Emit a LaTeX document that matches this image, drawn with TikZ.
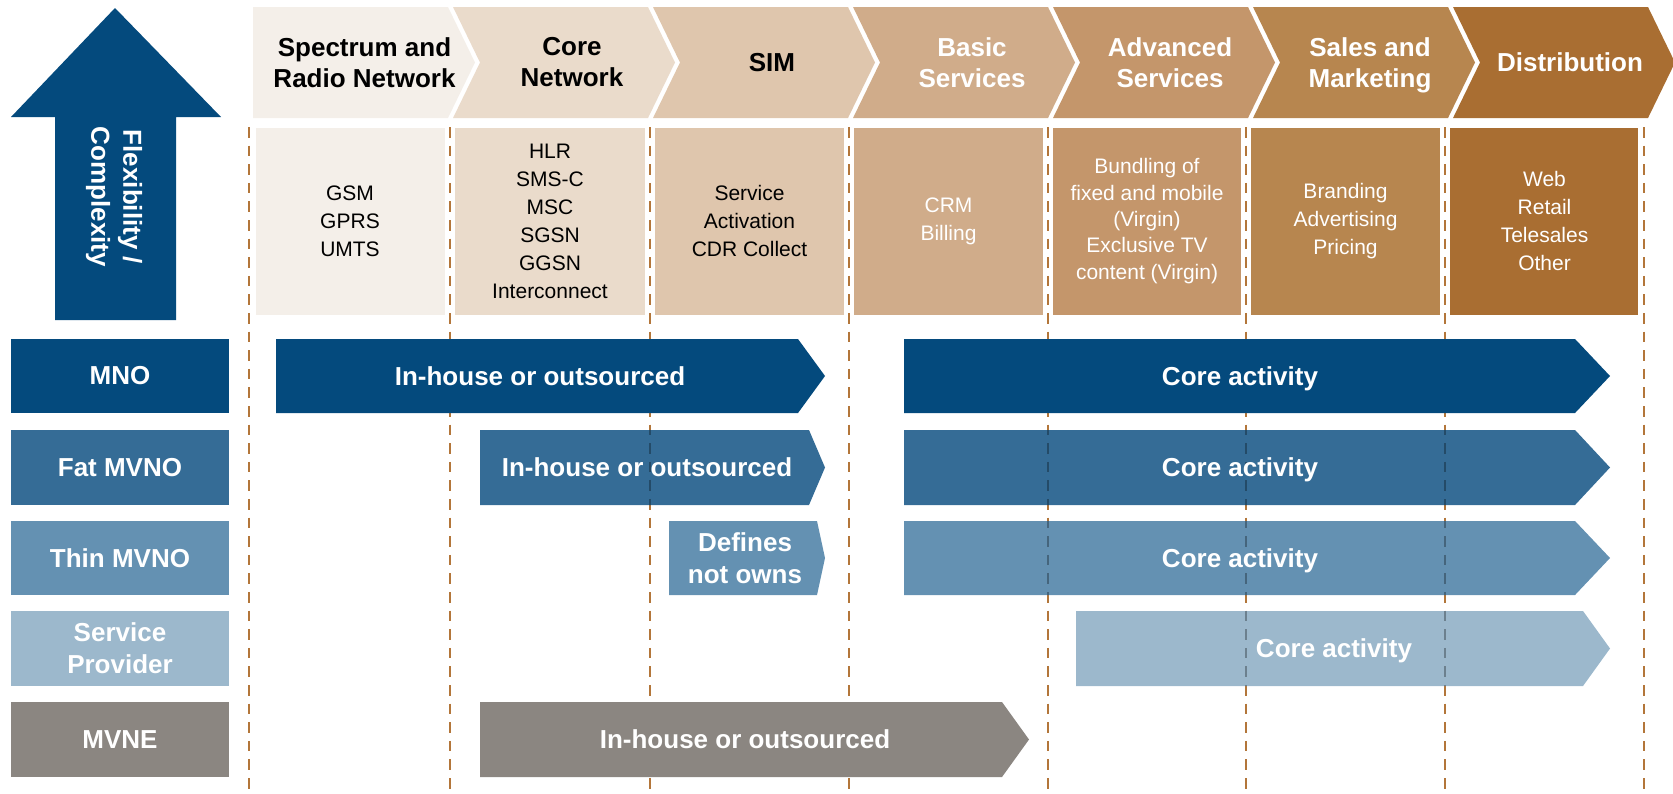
\documentclass[tikz,border=0pt]{standalone}
\usepackage{fontspec}
\setmainfont{Liberation Sans}
\usepackage{tikz}

\definecolor{hdA}{HTML}{F4EFE9}
\definecolor{hdB}{HTML}{EADBCB}
\definecolor{hdC}{HTML}{DFC6AD}
\definecolor{hdD}{HTML}{D0AC8A}
\definecolor{hdE}{HTML}{C4966B}
\definecolor{hdF}{HTML}{B7864F}
\definecolor{hdG}{HTML}{A96E32}
\definecolor{mnoblue}{HTML}{044A7D}
\definecolor{fatblue}{HTML}{356C96}
\definecolor{thinblue}{HTML}{6491B2}
\definecolor{spblue}{HTML}{9CB8CC}
\definecolor{mvnegray}{HTML}{8B8681}
\definecolor{dashbrown}{HTML}{B3763A}

\begin{document}
\begin{tikzpicture}[x=0.5pt, y=-0.5pt,
    hdtext/.style={align=center, font=\bfseries\fontsize{13}{15.5}\selectfont},
    cell/.style={align=center, font=\fontsize{10.5}{14}\selectfont},
    rowtext/.style={align=center, text=white, font=\bfseries\fontsize{13}{16}\selectfont},
    vline/.style={draw=dashbrown, line width=1.4pt, dash pattern=on 5.3pt off 4pt}]
            \useasboundingbox (0,0) rectangle (1673,793);

            % Header chevrons
            \fill[hdA] (253,7) -- (448,7) -- (475,62.5) -- (448,118) -- (253,118) -- cycle;
            \fill[hdB] (453,7) -- (648,7) -- (675,62.5) -- (648,118) -- (453,118) -- (480,62.5) -- cycle;
            \fill[hdC] (653,7) -- (848,7) -- (875,62.5) -- (848,118) -- (653,118) -- (680,62.5) -- cycle;
            \fill[hdD] (853,7) -- (1048,7) -- (1075,62.5) -- (1048,118) -- (853,118) -- (880,62.5) -- cycle;
            \fill[hdE] (1053,7) -- (1248,7) -- (1275,62.5) -- (1248,118) -- (1053,118) -- (1080,62.5) -- cycle;
            \fill[hdF] (1253,7) -- (1448,7) -- (1475,62.5) -- (1448,118) -- (1253,118) -- (1280,62.5) -- cycle;
            \fill[hdG] (1453,7) -- (1648,7) -- (1675,62.5) -- (1648,118) -- (1453,118) -- (1480,62.5) -- cycle;

            \node[hdtext] (h1) at (364.5,62.5) {Spectrum and\\Radio Network};
            \node[hdtext] (h2) at (572,62.5) {Core\\Network};
            \node[hdtext] (h3) at (772,62.5) {SIM};
            \node[hdtext, text=white] (h4) at (972,62.5) {Basic\\Services};
            \node[hdtext, text=white] (h5) at (1170,62.5) {Advanced\\Services};
            \node[hdtext, text=white] (h6) at (1370,65.5) {Sales and\\Marketing};
            \node[hdtext, text=white] (h7) at (1570,62.5) {Distribution};

            % Content boxes
            \fill[hdA] (256,128) rectangle (445,315);
            \fill[hdB] (455,128) rectangle (645,315);
            \fill[hdC] (655,128) rectangle (844,315);
            \fill[hdD] (854,128) rectangle (1043,315);
            \fill[hdE] (1053,128) rectangle (1241,315);
            \fill[hdF] (1251,128) rectangle (1440,315);
            \fill[hdG] (1450,128) rectangle (1638,315);

            \node[cell] (c1) at (350,221) {GSM\\GPRS\\UMTS};
            \node[cell] (c2) at (550,221) {HLR\\SMS-C\\MSC\\SGSN\\GGSN\\Interconnect};
            \node[cell] (c3) at (749.5,221) {Service\\Activation\\CDR Collect};
            \node[cell, text=white] (c4) at (948.5,221) {CRM\\Billing};
            \node[cell, text=white, font=\fontsize{10.5}{13.2}\selectfont] (c5) at (1147,221) {Bundling of\\fixed and mobile\\(Virgin)\\Exclusive TV\\content (Virgin)};
            \node[cell, text=white] (c6) at (1345.5,221) {Branding\\Advertising\\Pricing};
            \node[cell, text=white] (c7) at (1544.5,221) {Web\\Retail\\Telesales\\Other};

            % Dashed column lines
            \draw[vline] (249,127) -- (249,793);
            \draw[vline] (450,127) -- (450,793);
            \draw[vline] (650,127) -- (650,793);
            \draw[vline] (849,127) -- (849,793);
            \draw[vline] (1048,127) -- (1048,793);
            \draw[vline] (1246,127) -- (1246,793);
            \draw[vline] (1445,127) -- (1445,793);
            \draw[vline] (1644,127) -- (1644,793);

            % Big arrow on the left
            \fill[mnoblue] (115,8) -- (221,117) -- (176,117) -- (176,320) -- (55,320) -- (55,117) -- (11,117) -- cycle;
            \node[rowtext, rotate=-90] (flex) at (114,197) {Flexibility /\\Complexity};

            % Row labels
            \fill[mnoblue] (11,339) rectangle (229,413);
            \fill[fatblue] (11,430) rectangle (229,505);
            \fill[thinblue] (11,521) rectangle (229,595);
            \fill[spblue] (11,611) rectangle (229,686);
            \fill[mvnegray] (11,702) rectangle (229,777);

            \node[rowtext] (mno) at (120,376) {MNO};
            \node[rowtext] (fat) at (120,467.5) {Fat MVNO};
            \node[rowtext] (thin) at (120,558) {Thin MVNO};
            \node[rowtext] (sp) at (120,648.5) {Service\\Provider};
            \node[rowtext] (mvne) at (120,739.5) {MVNE};

            % Arrows
            \fill[mnoblue] (276,339) -- (798,339) -- (825,376) -- (798,413) -- (276,413) -- cycle;
            \fill[mnoblue] (904,339) -- (1575,339) -- (1610,376) -- (1575,413) -- (904,413) -- cycle;
            \fill[fatblue] (480,430) -- (809,430) -- (825,467.5) -- (809,505) -- (480,505) -- cycle;
            \fill[fatblue] (904,430) -- (1575,430) -- (1610,467.5) -- (1575,505) -- (904,505) -- cycle;
            \fill[thinblue] (669,521) -- (817,521) -- (825,558) -- (817,595) -- (669,595) -- cycle;
            \fill[thinblue] (904,521) -- (1575,521) -- (1610,558) -- (1575,595) -- (904,595) -- cycle;
            \fill[spblue] (1076,611) -- (1583,611) -- (1610,648.5) -- (1583,686) -- (1076,686) -- cycle;
            \fill[mvnegray] (480,702) -- (1002,702) -- (1029,739.5) -- (1002,777) -- (480,777) -- cycle;

            % Lines showing through the lighter arrows
            \begin{scope}
                \clip (480,430) rectangle (809,505) (904,430) rectangle (1575,505)
                      (904,521) rectangle (1575,595) (1076,611) rectangle (1583,686);
                \draw[vline, draw=black, opacity=0.3] (650,127) -- (650,793);
                \draw[vline, draw=black, opacity=0.3] (1048,127) -- (1048,793);
                \draw[vline, draw=black, opacity=0.3] (1246,127) -- (1246,793);
                \draw[vline, draw=black, opacity=0.3] (1445,127) -- (1445,793);
            \end{scope}

            \node[rowtext] (a1) at (540,376) {In-house or outsourced};
            \node[rowtext] (a2) at (1240,378.5) {Core activity};
            \node[rowtext] (a3) at (647,467.5) {In-house or outsourced};
            \node[rowtext] (a4) at (1240,470) {Core activity};
            \node[rowtext] (a5) at (745,558) {Defines\\not owns};
            \node[rowtext] (a6) at (1240,560.5) {Core activity};
            \node[rowtext] (a7) at (1334,651) {Core activity};
            \node[rowtext] (a8) at (745,739.5) {In-house or outsourced};
        \end{tikzpicture}
\end{document}
